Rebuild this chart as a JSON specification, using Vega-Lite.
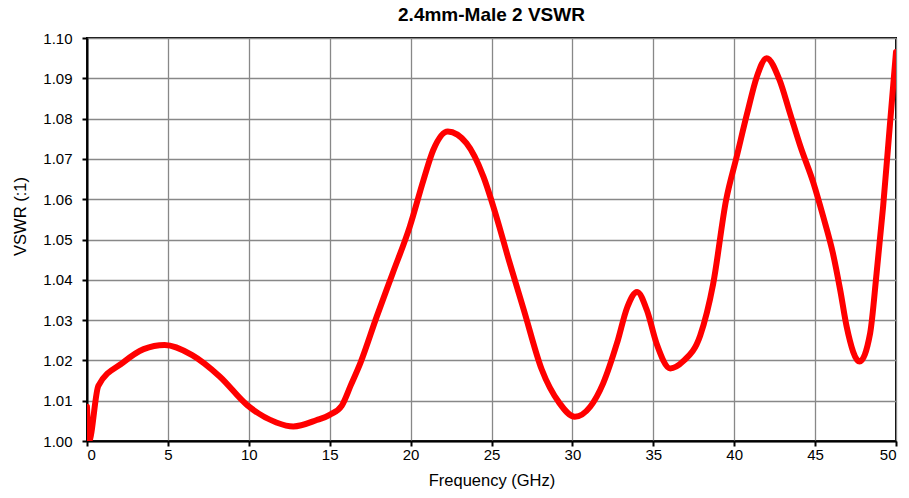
{
  "$schema": "https://vega.github.io/schema/vega-lite/v6.json",
  "width": 809,
  "height": 403,
  "autosize": {"type": "none"},
  "padding": {"left": 87, "top": 38, "right": 13, "bottom": 57},
  "background": "white",
  "title": {"text": "2.4mm-Male 2 VSWR", "font": "Liberation Sans", "fontSize": 19, "fontWeight": "bold", "color": "black", "offset": 6, "frame": "group"},
  "config": {
    "view": {"stroke": "black", "strokeWidth": 2},
    "axis": {
      "labelFont": "Liberation Sans", "labelFontSize": 15, "labelColor": "black",
      "titleFont": "Liberation Sans", "titleFontSize": 16.5, "titleFontWeight": "normal", "titleColor": "black",
      "domainColor": "black", "domainWidth": 2, "tickColor": "black", "tickWidth": 2, "tickSize": 5,
      "gridColor": "#888888", "gridWidth": 1.3, "gridOpacity": 1
    }
  },
  "data": {"values": [
    {"f": 0.0, "v": 1.0085},
    {"f": 0.12, "v": 1.0},
    {"f": 0.7, "v": 1.0137},
    {"f": 2.2, "v": 1.0194},
    {"f": 3.5, "v": 1.0228},
    {"f": 4.8, "v": 1.0238},
    {"f": 6.5, "v": 1.0213},
    {"f": 8.2, "v": 1.016},
    {"f": 9.9, "v": 1.0089},
    {"f": 11.7, "v": 1.0046},
    {"f": 12.75, "v": 1.0036},
    {"f": 14.2, "v": 1.0052},
    {"f": 15.0, "v": 1.0065},
    {"f": 15.75, "v": 1.0088},
    {"f": 16.3, "v": 1.0138},
    {"f": 16.9, "v": 1.0194},
    {"f": 17.9, "v": 1.0308},
    {"f": 18.9, "v": 1.0417},
    {"f": 19.95, "v": 1.0532},
    {"f": 20.8, "v": 1.0648},
    {"f": 21.4, "v": 1.0722},
    {"f": 22.3, "v": 1.0768},
    {"f": 23.45, "v": 1.0739},
    {"f": 24.5, "v": 1.0656},
    {"f": 25.3, "v": 1.0557},
    {"f": 26.1, "v": 1.0445},
    {"f": 27.0, "v": 1.0325},
    {"f": 28.1, "v": 1.0178},
    {"f": 29.2, "v": 1.0094},
    {"f": 30.15, "v": 1.006},
    {"f": 31.1, "v": 1.0085},
    {"f": 31.9, "v": 1.0143},
    {"f": 32.75, "v": 1.0242},
    {"f": 33.4, "v": 1.0333},
    {"f": 34.0, "v": 1.037},
    {"f": 34.6, "v": 1.0325},
    {"f": 35.2, "v": 1.0242},
    {"f": 36.05, "v": 1.018},
    {"f": 36.85, "v": 1.0198},
    {"f": 37.9, "v": 1.0262},
    {"f": 38.7, "v": 1.039},
    {"f": 39.5, "v": 1.0598},
    {"f": 40.15, "v": 1.0705},
    {"f": 40.8, "v": 1.0813},
    {"f": 41.4, "v": 1.0904},
    {"f": 42.0, "v": 1.095},
    {"f": 42.8, "v": 1.0896},
    {"f": 43.45, "v": 1.0813},
    {"f": 44.1, "v": 1.073},
    {"f": 44.9, "v": 1.064},
    {"f": 45.5, "v": 1.0557},
    {"f": 46.1, "v": 1.0466},
    {"f": 46.55, "v": 1.0375},
    {"f": 46.95, "v": 1.0284},
    {"f": 47.75, "v": 1.0197},
    {"f": 48.4, "v": 1.0267},
    {"f": 48.8, "v": 1.0416},
    {"f": 49.2, "v": 1.058},
    {"f": 49.63, "v": 1.0788},
    {"f": 50.0, "v": 1.0965}
  ]},
  "mark": {"type": "line", "color": "#FF0000", "strokeWidth": 6, "interpolate": "monotone", "strokeCap": "round", "strokeJoin": "round", "clip": true},
  "encoding": {
    "x": {"field": "f", "type": "quantitative", "title": "Frequency (GHz)",
      "scale": {"domain": [0, 50], "nice": false},
      "axis": {"values": [0, 5, 10, 15, 20, 25, 30, 35, 40, 45, 50], "labelPadding": 1, "titlePadding": 10}},
    "y": {"field": "v", "type": "quantitative", "title": "VSWR (:1)",
      "scale": {"domain": [1.0, 1.1], "nice": false, "zero": false},
      "axis": {"values": [1.0, 1.01, 1.02, 1.03, 1.04, 1.05, 1.06, 1.07, 1.08, 1.09, 1.1], "format": ".2f", "labelPadding": 10, "titlePadding": 14, "titleY": 178}}
  }
}
